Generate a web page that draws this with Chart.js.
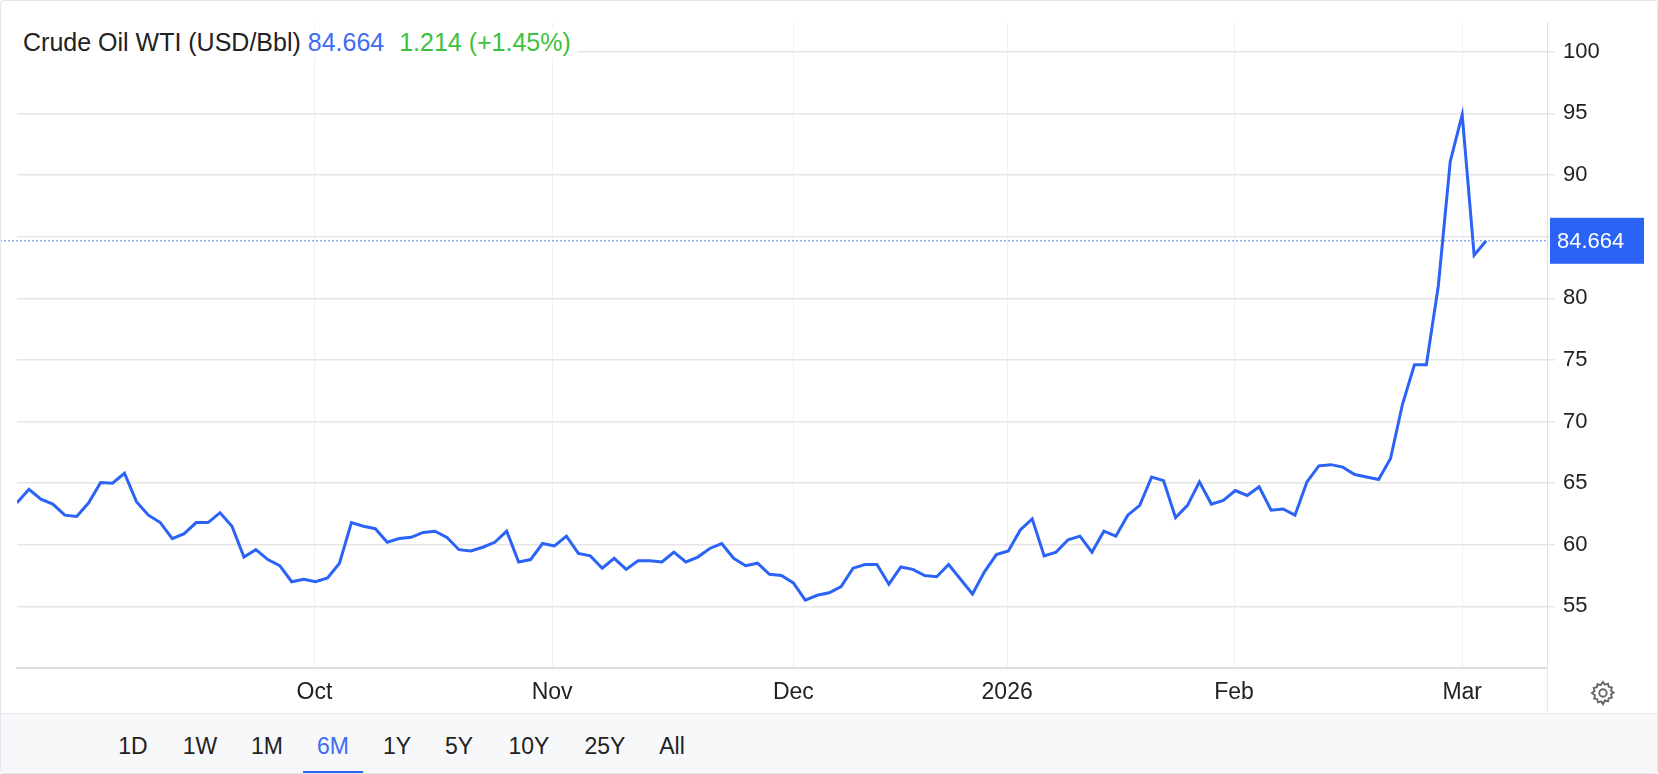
<!DOCTYPE html>
<html>
<head>
<meta charset="utf-8">
<script src="https://cdn.jsdelivr.net/npm/chart.js@4.4.1/dist/chart.umd.min.js"></script>
<style>
  body { margin: 0; background: #fff; font-family: "Liberation Sans", Arial, sans-serif; }
  #wrap { position: relative; width: 1658px; height: 774px; box-sizing: border-box; border: 1px solid #e3e5ea; border-radius: 4px; overflow: hidden; }
  #chartBox { position: absolute; left: 0; top: 0; width: 1656px; height: 712px; }
  #title { position: absolute; left: 16px; top: 27px; font-size: 25px; background: #fff; padding: 0 6px; color: #222; }
  #title .last { color: #3d6cf5; }
  #title .chg { color: #3cc13c; margin-left: 8px; }
  #bar { position: absolute; left: 0; top: 712px; width: 100%; height: 62px; background: #f7f8fa; border-top: 1px solid #e6e8ec; }
  #bar span { position: absolute; top: 19px; font-size: 23px; color: #222; transform: translateX(-50%); }
  #bar span.on { color: #3d6cf5; }
  #bar span.on::after { content: ""; position: absolute; left: -14px; right: -14px; top: 38px; height: 3px; background: #2b63f7; }
  #gear { position: absolute; left: 1588px; top: 678px; width: 28px; height: 28px; }
</style>
</head>
<body>
<div id="wrap">
  <div id="chartBox"><canvas id="chart"></canvas></div>
  <div id="title">Crude Oil WTI (USD/Bbl) <span class="last">84.664</span> <span class="chg">1.214 (+1.45%)</span></div>
  <svg id="gear" viewBox="0 0 24 24" fill="none" stroke="#666" stroke-width="1.6">
    <circle cx="12" cy="12" r="3.2"/>
    <path d="M12 2.5l1.6 2.3 2.7-.8.6 2.7 2.7.6-.8 2.7 2.3 1.6-2.3 1.6.8 2.7-2.7.6-.6 2.7-2.7-.8L12 21.5l-1.6-2.3-2.7.8-.6-2.7-2.7-.6.8-2.7L2.5 12l2.3-1.6-.8-2.7 2.7-.6.6-2.7 2.7.8z"/>
  </svg>
  <div id="bar"></div>
</div>
<script>
// Data (daily closes)
const prices = [
  63.4, 64.5, 63.7, 63.3, 62.4, 62.3, 63.4, 65.05, 65.0, 65.8, 63.5, 62.4, 61.8, 60.5, 60.9, 61.8,
  61.8, 62.6, 61.5, 59.0, 59.6, 58.8, 58.3, 57.0, 57.2, 57.0, 57.3, 58.5, 61.8, 61.5, 61.3, 60.2,
  60.5, 60.6, 61.0, 61.1, 60.6, 59.6, 59.5, 59.8, 60.2, 61.1, 58.6, 58.8, 60.1, 59.9,
  60.7, 59.3, 59.1, 58.1, 58.9, 58.0, 58.7, 58.7, 58.6, 59.4, 58.6, 59.0, 59.7, 60.1, 58.9, 58.3,
  58.5, 57.6, 57.5, 56.9, 55.5, 55.9, 56.1, 56.6, 58.1, 58.4, 58.4, 56.8, 58.2, 58.0, 57.5, 57.4,
  58.4, 57.2, 56.0, 57.8, 59.2, 59.5, 61.2, 62.1, 59.1, 59.4, 60.4, 60.7, 59.4,
  61.1, 60.7, 62.4, 63.2, 65.5, 65.2, 62.2, 63.2, 65.1, 63.3, 63.6, 64.4, 64.0, 64.7, 62.8, 62.9,
  62.4, 65.1, 66.4, 66.5,
  66.3, 65.7, 65.5, 65.3, 67.0, 71.4, 74.6, 74.6, 81.0, 91.1, 94.9, 83.5, 84.664
];
const monthLabels = ["Oct", "Nov", "Dec", "2026", "Feb", "Mar"];
const monthPos = [24.9, 44.8, 65.0, 82.9, 101.9, 121.0];
const yTicks = [55, 60, 65, 70, 75, 80, 85, 90, 95, 100];
const lastPrice = 84.664;
const ranges = ["1D", "1W", "1M", "6M", "1Y", "5Y", "10Y", "25Y", "All"];
const rangeX = [132, 199, 266, 332, 396, 458, 528, 604, 671];

// Range buttons
const bar = document.getElementById("bar");
ranges.forEach((r, i) => {
  const s = document.createElement("span");
  s.textContent = r;
  s.style.left = rangeX[i] + "px";
  if (r === "6M") s.className = "on";
  bar.appendChild(s);
});

// Last price line + label
const lastLine = {
  id: "lastLine",
  afterDatasetsDraw(chart) {
    const { ctx, chartArea } = chart;
    const y = chart.scales.y.getPixelForValue(lastPrice);
    ctx.save();
    ctx.strokeStyle = "#5b82f7";
    ctx.lineWidth = 1;
    ctx.setLineDash([2, 2]);
    ctx.beginPath();
    ctx.moveTo(chartArea.left - 17, y);
    ctx.lineTo(chartArea.right, y);
    ctx.stroke();
    ctx.setLineDash([]);
    ctx.fillStyle = "#2b63f7";
    ctx.fillRect(chartArea.right + 3, y - 23, 94, 46);
    ctx.fillStyle = "#fff";
    ctx.font = "22px 'Liberation Sans', Arial";
    ctx.textBaseline = "middle";
    ctx.fillText(lastPrice.toFixed(3), chartArea.right + 10, y + 1);
    ctx.restore();
  },
  afterDraw(chart) {
    const { ctx, chartArea } = chart;
    ctx.save();
    ctx.strokeStyle = "#e6e8ec";
    ctx.lineWidth = 1;
    ctx.beginPath();
    ctx.moveTo(chartArea.right + 0.5, chartArea.bottom);
    ctx.lineTo(chartArea.right + 0.5, chart.height);
    ctx.stroke();
    ctx.restore();
  }
};

new Chart(document.getElementById("chart"), {
  type: "line",
  data: {
    labels: prices.map((_, i) => i),
    datasets: [{
      data: prices.map((p, i) => ({ x: i, y: p })),
      borderColor: "#2b63f7",
      borderWidth: 3,
      pointRadius: 0,
      tension: 0,
      fill: false,
    }],
  },
  options: {
    responsive: true,
    maintainAspectRatio: false,
    animation: false,
    layout: { padding: { left: 16, top: 0, right: 0, bottom: 0 } },
    plugins: { legend: { display: false }, tooltip: { enabled: false } },
    scales: {
      x: {
        type: "linear",
        min: 0,
        max: 128.1,
        afterBuildTicks: (s) => { s.ticks = monthPos.map((v) => ({ value: v })); },
        afterFit: (s) => { s.height = 45; },
        ticks: {
          autoSkip: false,
          maxRotation: 0,
          padding: 11,
          color: "#222",
          font: { size: 23, family: "'Liberation Sans', Arial" },
          callback: (v, i) => monthLabels[i],
        },
        grid: { color: "#eef2f8", lineWidth: 1, drawTicks: false },
        border: { color: "#dddddd", width: 2 },
      },
      y: {
        position: "right",
        min: 50,
        max: 102.4,
        afterBuildTicks: (s) => { s.ticks = yTicks.map((v) => ({ value: v })); },
        afterFit: (s) => { s.width = 110; },
        ticks: {
          padding: 8,
          color: "#222",
          font: { size: 22, family: "'Liberation Sans', Arial" },
        },
        grid: { color: "#e6e6e6", lineWidth: 1.5, tickLength: 8 },
        border: { color: "#e0e0e0", width: 1 },
      },
    },
  },
  plugins: [lastLine],
});
</script>
</body>
</html>
